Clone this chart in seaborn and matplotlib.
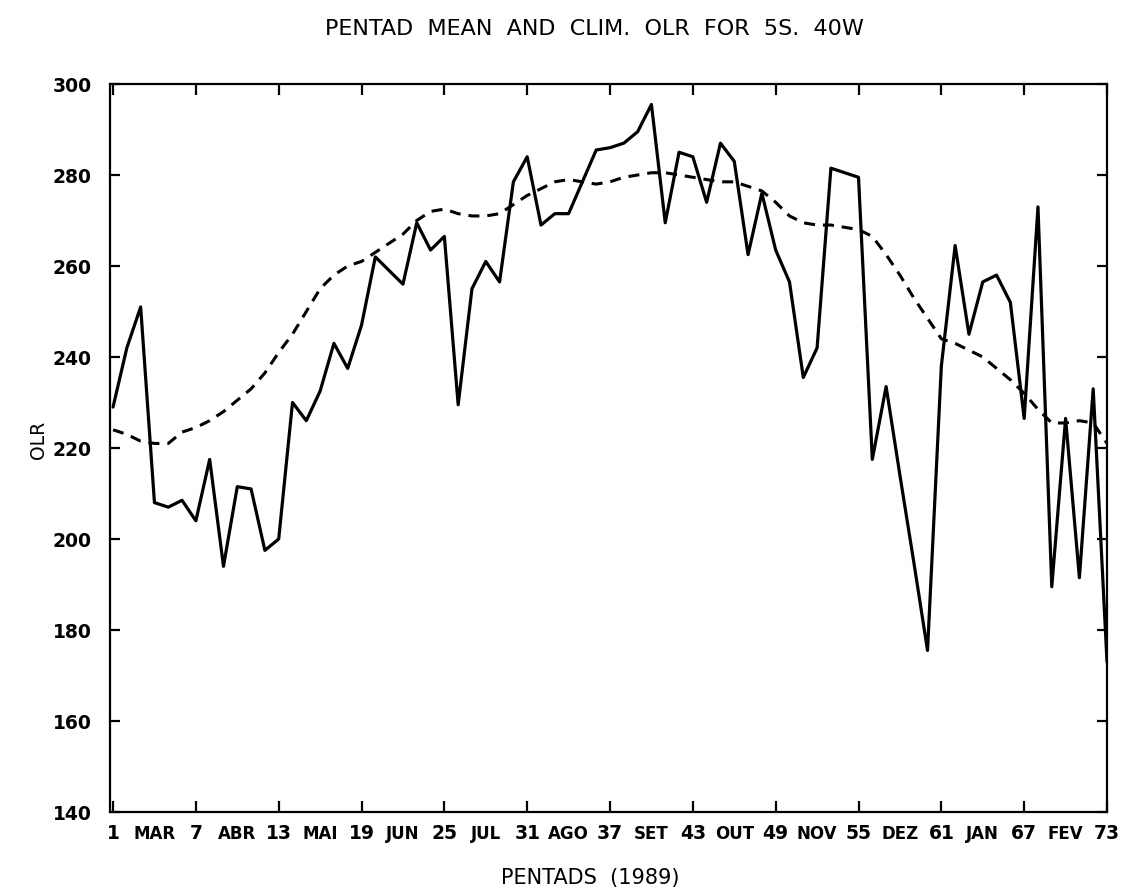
import numpy as np
import pandas as pd
import matplotlib
matplotlib.use("Agg")
import matplotlib.pyplot as plt
import seaborn as sns

# ---- data ----
pentads = list(range(1, 74))
olr_pentad = [229, 242, 251, 208, 207, 208.5, 204, 217.5, 194, 211.5,
              211, 197.5, 200, 230, 226, 232.5, 243, 237.5, 247, 262,
              259, 256, 269.5, 263.5, 266.5, 229.5, 255, 261, 256.5, 278.5,
              284, 269, 271.5, 271.5, 278.5, 285.5, 286, 287, 289.5, 295.5,
              269.5, 285, 284, 274, 287, 283, 262.5, 276, 263.5, 256.5,
              235.5, 242, 281.5, 280.5, 279.5, 217.5, 233.5, 214, 195, 175.5,
              238, 264.5, 245, 256.5, 258, 252, 226.5, 273, 189.5, 226.5,
              191.5, 233, 173]
olr_clim = [224, 223, 221.5, 221, 221, 223.5, 224.5, 226, 228, 230.5,
            233, 236.5, 241, 245, 250, 255, 258, 260, 261, 263,
            265, 267, 270, 272, 272.5, 271.5, 271, 271, 271.5, 273.5,
            275.5, 277, 278.5, 279, 278.5, 278, 278.5, 279.5, 280, 280.5,
            280.5, 280, 279.5, 279, 278.5, 278.5, 277.5, 276.5, 274, 271,
            269.5, 269, 269, 268.5, 268, 266.5, 262.5, 258, 253, 248.5,
            244, 243, 241.5, 240, 237.5, 235, 232, 228.5, 225.5, 225.5,
            226, 225.5, 221]
num_ticks = list(range(1, 74, 6))
month_ticks = list(range(4, 71, 6))
month_labels = ["MAR", "ABR", "MAI", "JUN", "JUL", "AGO", "SET", "OUT",
                "NOV", "DEZ", "JAN", "FEV"]
y_ticks = list(range(140, 301, 20))

df = pd.DataFrame({"pentad": pentads, "mean": olr_pentad, "clim": olr_clim})

sns.set_style("ticks")
plt.rcParams["font.family"] = ["DejaVu Sans"]
plt.rcParams["text.color"] = "black"
plt.rcParams["xtick.color"] = "black"
plt.rcParams["ytick.color"] = "black"

fig = plt.figure(figsize=(11.28, 8.95), dpi=100)
ax = fig.add_axes([110/1128, 1-813/895, (1107-110)/1128, (813-85)/895])

sns.lineplot(data=df, x="pentad", y="mean", ax=ax, color="black", lw=2.3)
sns.lineplot(data=df, x="pentad", y="clim", ax=ax, color="black", lw=2.2,
             linestyle=(0, (3.6, 2.6)))

ax.set_xlim(0.78, 73.0)
ax.set_ylim(140, 300)

ax.set_xticks(num_ticks)
ax.set_xticklabels([str(t) for t in num_ticks])
ax.set_xticks(month_ticks, minor=True)
ax.set_xticklabels(month_labels, minor=True)
ax.set_yticks(y_ticks)
ax.set_yticklabels([str(t) for t in y_ticks])

ax.tick_params(axis="x", which="major", direction="in", length=8, width=1.6,
               top=True, labelsize=13.5, pad=8, colors="black")
ax.tick_params(axis="x", which="minor", length=0, labelsize=12, pad=9,
               colors="black")
ax.tick_params(axis="y", which="major", direction="in", length=7, width=1.6,
               right=True, labelsize=13.5, pad=13, colors="black")
for lab in ax.get_xticklabels(which="both") + ax.get_yticklabels():
    lab.set_fontweight("semibold")

for sp in ax.spines.values():
    sp.set_visible(True)
    sp.set_linewidth(1.6)
    sp.set_color("black")

ax.set_xlabel("")
ax.set_ylabel("")

fig.text(0.527, 0.968, "PENTAD  MEAN  AND  CLIM.  OLR  FOR  5S.  40W",
         ha="center", va="center", fontsize=16, color="black")
fig.text(0.034, 0.508, "OLR", ha="center", va="center", rotation=90,
         fontsize=13.5, color="black")
fig.text(0.523, 0.019, "PENTADS  (1989)", ha="center", va="center",
         fontsize=15, color="black")

fig.savefig("out.png", dpi=100, facecolor="white")
